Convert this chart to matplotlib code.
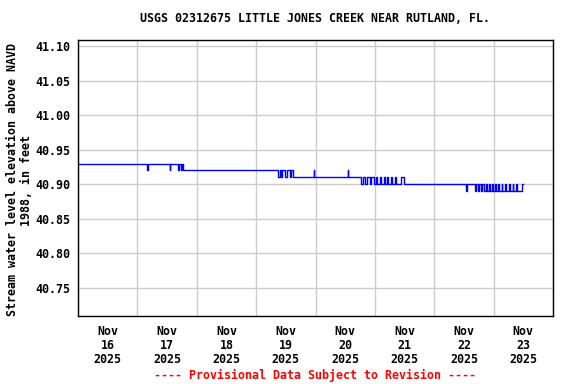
import matplotlib
matplotlib.use("Agg")
import matplotlib.pyplot as plt
import numpy as np

# Hours since 2025-11-16 00:00 at which the gauge reading changes, and the new level (ft)
change_hours = [0, 27.75, 28.25, 37.0, 37.25, 40.5, 41.0, 41.5, 42.0, 42.5,
                80.75, 81.5, 82.0, 82.5, 83.5, 84.5, 85.5, 86.0, 86.75,
                95.25, 95.5, 109.0, 109.25,
                114.5, 115.0, 116.0, 117.0, 118.0, 118.5, 119.5, 120.5, 121.0, 122.0,
                122.5, 123.5, 124.0, 125.0, 125.5, 126.5, 127.0, 128.0, 128.5,
                130.75, 131.75,
                157.0, 157.25,
                160.5, 161.0, 161.5, 162.25, 162.75, 163.5, 164.0, 164.75, 165.25, 166.0,
                166.5, 167.25, 167.75, 168.5, 169.0, 169.75, 170.0, 171.25, 171.5, 172.75,
                173.0, 174.25, 174.5, 175.75, 176.0, 177.0, 177.25, 179.5, 180.0]
levels = [40.93, 40.92, 40.93, 40.92, 40.93, 40.92, 40.93, 40.92, 40.93, 40.92,
          40.91, 40.92, 40.91, 40.92, 40.91, 40.92, 40.91, 40.92, 40.91,
          40.92, 40.91, 40.92, 40.91,
          40.90, 40.91, 40.90, 40.91, 40.90, 40.91, 40.90, 40.91, 40.90, 40.91,
          40.90, 40.91, 40.90, 40.91, 40.90, 40.91, 40.90, 40.91, 40.90,
          40.91, 40.90,
          40.89, 40.90,
          40.89, 40.90, 40.89, 40.90, 40.89, 40.90, 40.89, 40.90, 40.89, 40.90,
          40.89, 40.90, 40.89, 40.90, 40.89, 40.90, 40.89, 40.90, 40.89, 40.90,
          40.89, 40.90, 40.89, 40.90, 40.89, 40.90, 40.89, 40.90, 40.90]

day_labels = ["Nov\n16\n2025", "Nov\n17\n2025", "Nov\n18\n2025", "Nov\n19\n2025",
              "Nov\n20\n2025", "Nov\n21\n2025", "Nov\n22\n2025", "Nov\n23\n2025"]
y_ticks = [40.75, 40.80, 40.85, 40.90, 40.95, 41.00, 41.05, 41.10]

FONT = "DejaVu Sans Mono"
FS = 8.4

fig = plt.figure(figsize=(5.76, 3.84), dpi=100)
ax = fig.add_axes([78/576, 1-316/384, (553-78)/576, (316-40)/384])

ax.step(change_hours, levels, where="post", color="#0000ff", lw=1.0)

ax.set_xlim(0, 192)
ax.set_ylim(40.7095, 41.1087)

ax.set_xticks(np.arange(0, 193, 24))
ax.set_xticklabels([])
ax.set_xticks(np.arange(12, 192, 24), minor=True)
ax.set_xticklabels(day_labels, minor=True, fontfamily=FONT, fontweight="bold",
                   fontsize=FS, linespacing=1.1)
ax.set_yticks(y_ticks)
ax.set_yticklabels([f"{v:.2f}" for v in y_ticks], fontfamily=FONT,
                   fontweight="bold", fontsize=FS)
ax.tick_params(axis="both", which="both", length=0)
ax.tick_params(axis="x", which="minor", pad=6.5)
ax.tick_params(axis="y", pad=5.8)

ax.grid(True, which="major", color="#cccccc", lw=1.0)
ax.set_axisbelow(True)
for s in ax.spines.values():
    s.set_color("black")
    s.set_linewidth(1.0)

fig.text(315.5/576, 1-19/384, "USGS 02312675 LITTLE JONES CREEK NEAR RUTLAND, FL.",
         ha="center", va="center", fontfamily=FONT, fontweight="bold", fontsize=FS)
fig.text(19.5/576, 1-180/384, "Stream water level elevation above NAVD\n1988, in feet",
         ha="center", va="center", rotation=90, fontfamily=FONT, fontweight="bold",
         fontsize=FS, linespacing=1.1)
fig.text(315/576, 1-375/384, "---- Provisional Data Subject to Revision ----",
         ha="center", va="center", color="red", fontfamily=FONT, fontweight="bold",
         fontsize=FS)

fig.savefig("out.png", dpi=100)
